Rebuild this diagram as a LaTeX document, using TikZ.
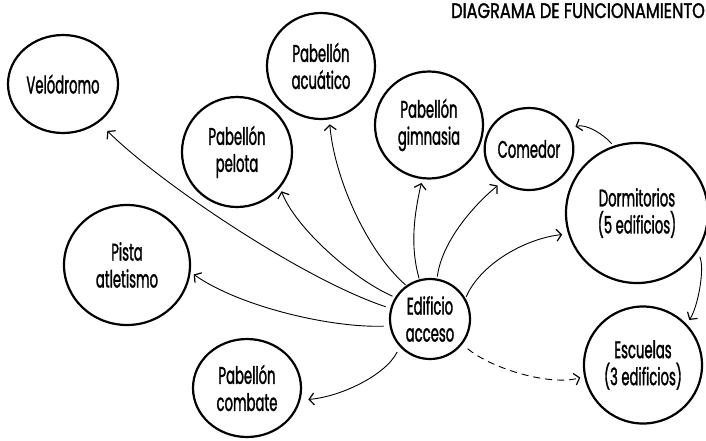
\documentclass[tikz,border=0pt]{standalone}
\usepackage{fontspec}
\setmainfont{Poppins}[FakeStretch=0.55,FakeBold=1.3]
\newfontfamily\titlefont{Poppins}[FakeStretch=0.77,FakeBold=1.5]
\usetikzlibrary{shapes.geometric,arrows.meta}
\begin{document}
\begin{tikzpicture}[x=1pt,y=-1pt,
  bub/.style={ellipse,draw,line width=2.2pt,inner sep=0pt,outer sep=0pt,align=center,
    font=\fontsize{24}{27}\selectfont},
  con/.style={line width=0.9pt,-{Straight Barb[length=5pt,width=12pt,line width=1.2pt]}},
  dcon/.style={con,dash pattern=on 7pt off 5pt}]
\useasboundingbox (0,0) rectangle (706,440);
\node[anchor=base west,inner sep=0pt,font=\titlefont\fontsize{21}{21}\selectfont] (title) at (451,18) {DIAGRAMA DE FUNCIONAMIENTO};
\node[bub,minimum width=110pt,minimum height=98pt] (velo) at (63,84) {Velódromo};
\node[bub,minimum width=108pt,minimum height=106pt] (acua) at (321,66) {Pabellón\\acuático};
\node[bub,minimum width=110pt,minimum height=110pt] (pelo) at (237,152) {Pabellón\\pelota};
\node[bub,minimum width=108pt,minimum height=107pt] (gimn) at (429,125) {Pabellón\\gimnasia};
\node[bub,minimum width=80pt,minimum height=82pt] (come) at (529,149) {Comedor};
\node[bub,minimum width=142pt,minimum height=140pt] (dorm) at (637,213) {Dormitorios\\(5 edificios)};
\node[bub,minimum width=126pt,minimum height=120pt] (pist) at (127,265) {Pista\\atletismo};
\node[bub,minimum width=80pt,minimum height=80pt] (acc) at (430,319) {Edificio\\acceso};
\node[bub,minimum width=108pt,minimum height=98pt] (comb) at (247,388) {Pabellón\\combate};
\node[bub,minimum width=118pt,minimum height=117pt] (escu) at (643,365) {Escuelas\\(3 edificios)};
\draw[con,shorten <=6pt,shorten >=13pt] (acc.165) .. controls +(-90,-30) and +(60,60) .. (velo.-47.5);
\draw[con,shorten <=7pt,shorten >=5pt] (acc.190) .. controls +(-60,2) and +(50,35) .. (pist.-6.7);
\draw[con,shorten <=4pt,shorten >=5pt] (acc.148) .. controls +(-45,-20) and +(15,40) .. (pelo.-39.6);
\draw[con,shorten <=2pt,shorten >=6pt] (acc.125) .. controls +(-40,-35) and +(5,60) .. (acua.-81.5);
\draw[con,shorten <=2pt,shorten >=5pt] (acc.105) .. controls +(-10,-35) and +(-8,35) .. (gimn.-97.7);
\draw[con,shorten <=3pt,shorten >=6pt] (acc.80.5) .. controls +(5,-40) and +(-25,20) .. (come.-129);
\draw[con,shorten <=3pt,shorten >=7pt] (acc.29) .. controls +(15,-35) and +(-45,5) .. (dorm.-163.7);
\draw[con,shorten <=7pt,shorten >=9pt] (acc.-138.5) .. controls +(-15,30) and +(40,-3) .. (comb.-13.8);
\draw[dcon,shorten <=8pt,shorten >=5pt] (acc.-38) .. controls +(30,25) and +(-35,10) .. (escu.-169);
\draw[con,shorten <=4pt,shorten >=8pt] (dorm.109) .. controls +(-10,-12) and +(18,-6) .. (come.27);
\draw[con,shorten <=7pt,shorten >=6pt] (dorm.-32.9) .. controls +(8,18) and +(12,-18) .. (escu.43.8);
\end{tikzpicture}
\end{document}
